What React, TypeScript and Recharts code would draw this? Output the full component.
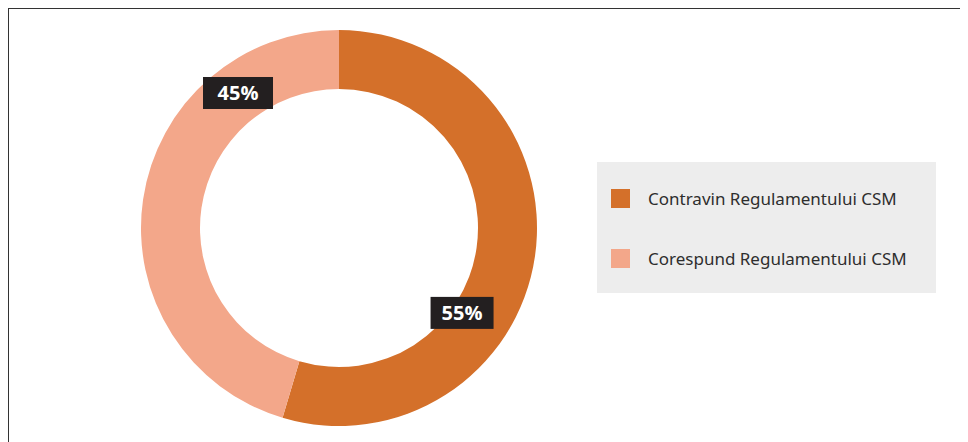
import React from 'react';
import { PieChart, Pie, Cell, Legend } from 'recharts';

const categories = ['Contravin Regulamentului CSM', 'Corespund Regulamentului CSM'];
const values = [54.6, 45.4];
const colors = ['#d4702a', '#f3a78a'];

const data = categories.map((name, i) => ({ name, value: values[i] }));

// label placement (style): angle in degrees (counter-clockwise), radius from center, box width
const labelStyle = [
  { angle: -34.6, r: 149.5, w: 63 },
  { angle: 126.8, r: 168.6, w: 70 },
];

const RAD = Math.PI / 180;

const renderLabel = (props: any) => {
  const { cx, cy, index, percent } = props;
  const s = labelStyle[index];
  const x = cx + s.r * Math.cos(-s.angle * RAD);
  const y = cy + s.r * Math.sin(-s.angle * RAD);
  const h = 32;
  return (
    <g key={`lbl-${index}`}>
      <rect x={x - s.w / 2} y={y - h / 2} width={s.w} height={h} fill="#231f20" />
      <text
        x={x}
        y={y}
        textAnchor="middle"
        dominantBaseline="central"
        fill="#ffffff"
        fontFamily="'Open Sans', sans-serif"
        fontWeight={700}
        fontSize={20}
      >
        {`${Math.round(percent * 100)}%`}
      </text>
    </g>
  );
};

const renderLegend = (props: any) => {
  const { payload } = props;
  return (
    <div
      style={{
        width: 339,
        height: 131,
        background: '#ededed',
        position: 'relative',
        fontFamily: "'Noto Sans', sans-serif",
      }}
    >
      {payload.map((entry: any, i: number) => (
        <div
          key={i}
          style={{
            position: 'absolute',
            left: 14,
            top: 27 + i * 60,
            height: 19,
            display: 'flex',
            alignItems: 'center',
            whiteSpace: 'nowrap',
          }}
        >
          <div style={{ width: 19, height: 19, background: entry.color, marginRight: 18 }} />
          <span style={{ fontSize: 17, color: '#2e2e2e' }}>{entry.value}</span>
        </div>
      ))}
    </div>
  );
};

export default function App() {
  return (
    <div
      style={{
        width: 960,
        height: 434,
        borderTop: '1px solid #333',
        borderLeft: '1px solid #333',
        boxSizing: 'border-box',
        background: '#fff',
      }}
    >
      <PieChart width={959} height={433} margin={{ top: 0, right: 0, bottom: 0, left: 0 }}>
        <Pie
          data={data}
          dataKey="value"
          nameKey="name"
          cx={330}
          cy={219}
          innerRadius={139}
          outerRadius={198}
          startAngle={90}
          endAngle={-270}
          stroke="none"
          labelLine={false}
          label={renderLabel}
          isAnimationActive={false}
        >
          {data.map((d, i) => (
            <Cell key={d.name} fill={colors[i]} />
          ))}
        </Pie>
        <Legend
          content={renderLegend}
          wrapperStyle={{ left: 588, top: 153, width: 339, height: 131 }}
        />
      </PieChart>
    </div>
  );
}
